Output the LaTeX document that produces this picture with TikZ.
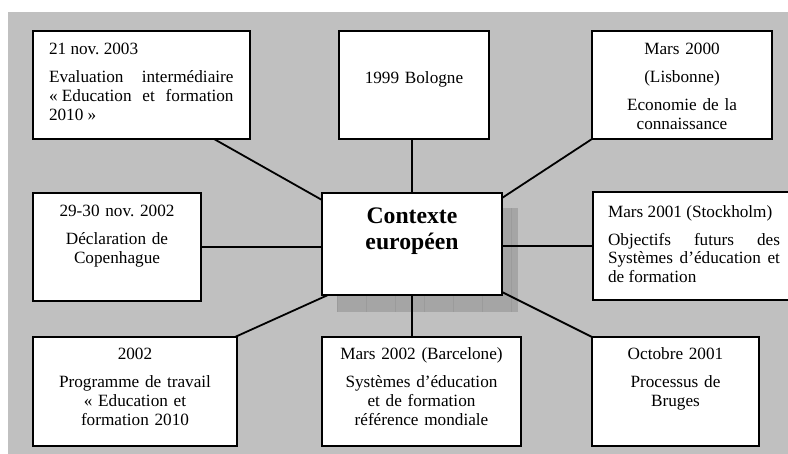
\documentclass[tikz,border=0pt]{standalone}
\usepackage{fontspec}
\setmainfont{Liberation Serif}
\usetikzlibrary{calc,backgrounds}
\definecolor{panelgray}{HTML}{C0C0C0}
\definecolor{shadowgray}{HTML}{A5A5A5}
\definecolor{shadowgrid}{HTML}{9B9B9B}
\begin{document}
\frenchspacing
\begin{tikzpicture}[x=1pt,y=-1pt,
  box/.style={draw=black,line width=1.8pt,fill=white,inner sep=0pt,outer sep=0pt,anchor=north west},
  link/.style={draw=black,line width=1.8pt},
  txt/.style={inner sep=0pt,outer sep=0pt,anchor=base,
    font=\fontsize{17.2}{18.6}\selectfont},
  title/.style={inner sep=0pt,outer sep=0pt,anchor=base,
    font=\fontsize{23.7}{26}\selectfont\bfseries},
]
\useasboundingbox (0,0) rectangle (788,454);
\clip (0,0) rectangle (788,454);

% boxes
\node[box,minimum width=217,minimum height=108] (tl)  at (33,31)   {};
\node[box,minimum width=150,minimum height=108] (bol) at (339,31)  {};
\node[box,minimum width=180,minimum height=108] (tr)  at (592,31)  {};
\node[box,minimum width=168,minimum height=108] (ml)  at (33,193)  {};
\node[box,minimum width=180,minimum height=102] (ctr) at (322,193) {};
\node[box,minimum width=210,minimum height=108] (mr)  at (593,192) {};
\node[box,minimum width=204,minimum height=109] (bl)  at (33,337)  {};
\node[box,minimum width=199,minimum height=109] (bm)  at (322,337) {};
\node[box,minimum width=167,minimum height=109] (br)  at (592,337) {};

% texts
\node[txt,anchor=base west,text width=184.5,align=justify] (tlT) at (49,55)
  {21 nov. 2003\\[9.4pt]Evaluation intermédiaire\linebreak \mbox{« Education} et formation\linebreak \mbox{2010 »}};
\node[txt,text width=140,align=center] (bolT) at (414,83.3) {1999 Bologne};
\node[txt,text width=170,align=center] (trT) at (682,55)
  {Mars 2000\\[9.4pt](Lisbonne)\\[9.4pt]Economie de la\\connaissance};
\node[txt,text width=160,align=center] (mlT) at (117,216.7)
  {29-30 nov. 2002\\[9.4pt]Déclaration de\\Copenhague};
\node[title,text width=170,align=center] (ctrT) at (412,224) {Contexte\\européen};
\node[txt,anchor=base west,text width=172,align=justify] (mrT) at (608,217.3)
  {Mars 2001 (Stockholm)\\[9.4pt]Objectifs futurs des\linebreak Systèmes d’éducation et\linebreak de formation};
\node[txt,text width=196,align=center] (blT) at (135,360)
  {2002\\[9.4pt]Programme de travail\\« Education et\\formation 2010};
\node[txt,text width=196,align=center] (bmT) at (421.5,360)
  {Mars 2002 (Barcelone)\\[9.4pt]Systèmes d’éducation\\et de formation\\référence mondiale};
\node[txt,text width=160,align=center] (brT) at (675.5,360)
  {Octobre 2001\\[9.4pt]Processus de\\Bruges};

\begin{pgfonlayer}{background}
  \fill[white] (0,0) rectangle (788,454);
  \fill[panelgray] (8,12) rectangle (788,454);
  % drop shadow of the central box, with its faint tile grid
  \fill[shadowgray] ($(ctr.north west)+(15,15)$) rectangle ($(ctr.south east)+(16,17)$);
  \begin{scope}
    \clip ($(ctr.north west)+(15,15)$) rectangle ($(ctr.south east)+(16,17)$);
    \draw[shadowgrid,line width=0.5pt,shift={($(ctr.north west)+(15,15)$)}]
      (0,0) grid[step=29] (200,120);
  \end{scope}
  % connectors
  \draw[link] ($(tl.south east)+(-36,0)$) -- ($(ctr.north west)+(0,7)$);
  \draw[link] (ctr.north |- bol.south) -- (ctr.north);
  \draw[link] (tr.south west) -- ($(ctr.north east)+(0,5)$);
  \draw[link] (ml.east) -- (ctr.west |- ml.east);
  \draw[link] (mr.west) -- (ctr.east |- mr.west);
  \draw[link] ($(bl.north east)+(-2,0)$) -- ($(ctr.south west)+(6,0)$);
  \draw[link] (ctr.south) -- (ctr.south |- bm.north);
  \draw[link] ($(ctr.south east)+(0,-3)$) -- (br.north west);
\end{pgfonlayer}
\end{tikzpicture}
\end{document}
